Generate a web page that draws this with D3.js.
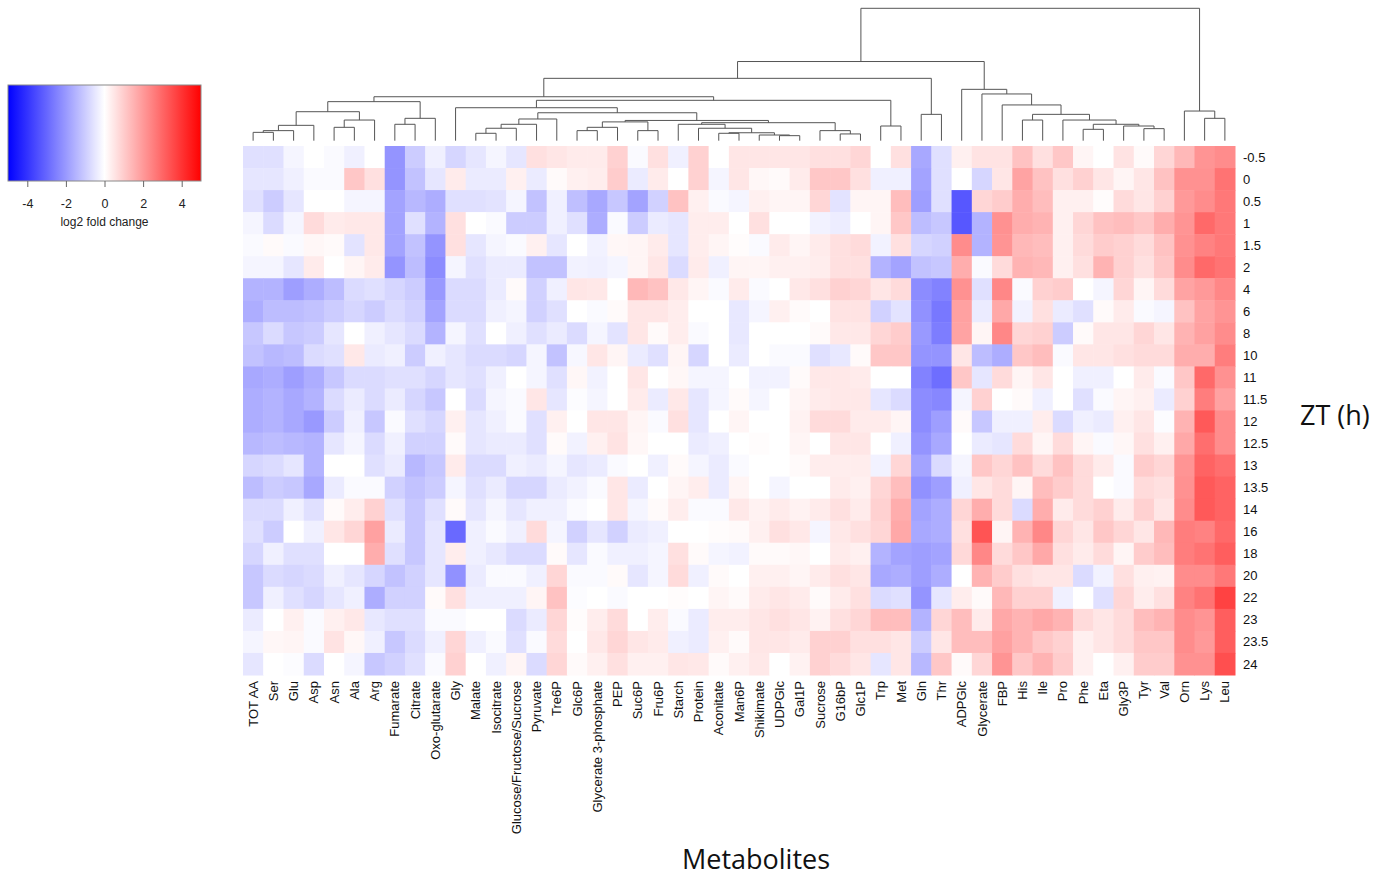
<!DOCTYPE html>
<html>
<head>
<meta charset="utf-8">
<script src="https://cdn.jsdelivr.net/npm/d3@7"></script>
<style>
  body { margin: 0; background: #fff; }
  svg { display: block; }
</style>
</head>
<body>
<svg id="chart" width="1397" height="878"></svg>
<script>
// Metabolites in clustered (dendrogram) order
const metabolites = ["TOT AA","Ser","Glu","Asp","Asn","Ala","Arg","Fumarate","Citrate","Oxo-glutarate",
  "Gly","Malate","Isocitrate","Glucose/Fructose/Sucrose","Pyruvate","Tre6P","Glc6P","Glycerate 3-phosphate",
  "PEP","Suc6P","Fru6P","Starch","Protein","Aconitate","Man6P","Shikimate","UDPGlc","Gal1P","Sucrose",
  "G16bP","Glc1P","Trp","Met","Gln","Thr","ADPGlc","Glycerate","FBP","His","Ile","Pro","Phe","Eta",
  "Gly3P","Tyr","Val","Orn","Lys","Leu"];

// Sampling times, ZT (h)
const timepoints = ["-0.5","0","0.5","1","1.5","2","4","6","8","10","11","11.5","12","12.5","13","13.5",
  "14","16","18","20","22","23","23.5","24"];

// log2 fold change, one row per time point, columns in metabolite order
const log2fc = [
  [-0.6,-0.6,-0.2,0,-0.1,-0.3,0,-2.1,-1.0,-0.3,-0.8,-0.5,-0.2,-0.5,0.6,0.5,0.4, 0.4,0.9,-0.1,0.6,-0.3,0.9,0,0.5,0.5,0.5,0.5,0.6,0.6,0.8,0,0.6, -1.7,-0.6,0.3,0.55,0.55,1.2,0.6,1.1,0.2,0,0.55,0.1,0.8,1.4,2.1,2.25],
  [-0.5,-0.5,-0.3,-0.1,-0.1,1.1,0.6,-2.1,-1.2,-0.5,0.4,-0.4,-0.4,0.3,-0.4,0.1,0.3, 0.35,1.0,-0.4,0.4,0,0.9,-0.2,0.5,0.15,0.1,0.4,1.1,1.1,0.6,-0.3,-0.3, -1.8,-0.6,0,-0.8,0.5,1.8,1.2,0.6,0.9,0.5,0.2,0.5,1.2,2.15,2.15,2.75],
  [-0.6,-1.0,-0.5,0,0,-0.2,-0.2,-1.8,-1.4,-1.6,-0.6,-0.6,-0.55,-0.2,-1.2,-0.3,-1.25, -1.7,-1.1,-1.8,-0.9,1.2,0.3,-0.1,-0.2,0.3,0.2,0.2,0.8,-0.55,0.2,0.2,1.3, -1.9,-0.6,-3.3,0.8,1.0,1.6,1.3,0.3,0.3,0.05,0.7,0.5,0.9,2.0,2.25,2.65],
  [-0.2,-0.7,-0.2,0.7,0.4,0.45,0.45,-1.8,-0.6,-1.5,0.6,0,-0.1,-1.0,-1.0,-0.3,-0.6, -1.6,-0.1,-1.0,-0.4,-0.5,0.35,0.35,0,0.6,0,0,-0.25,-0.35,0,0.2,1.1, -1.3,-1.1,-3.3,-1.5,2.15,1.6,1.5,0.3,0.8,1.2,1.3,1.1,1.6,2.1,2.95,2.65],
  [-0.1,0.1,-0.1,0.15,0.1,-0.55,0.45,-1.8,-1.2,-2.1,0.6,-0.5,-0.2,-0.1,0.3,-0.5,0, -0.25,0.15,0.2,0.4,-0.5,0.35,0.2,0.05,-0.1,0.4,0.2,0.4,0.6,0.7,-0.25,0.6, -0.8,-0.9,2.25,-1.5,2.1,1.4,1.3,0.3,0.7,1.0,0.9,0.7,1.2,2.15,2.45,2.65],
  [-0.2,-0.2,-0.5,0.4,0,0.2,0.4,-2.1,-1.3,-2.25,-0.2,-0.6,-0.4,-0.4,-1.2,-1.2,-0.25, -0.3,-0.2,0.2,0.5,-0.7,0.4,-0.3,0.2,0.2,0.3,0.3,0.35,0.6,0.6,-1.5,-1.8, -1.2,-1.1,1.6,-0.1,0.7,1.5,1.4,0.3,0.6,1.5,0.9,0.6,1.1,2.25,2.95,2.75],
  [-1.5,-1.5,-1.9,-1.6,-1.3,-0.7,-0.6,-0.8,-1.0,-2.0,-0.7,-0.7,-0.4,0.1,-0.9,-0.3,0.5, 0.45,0,1.4,1.2,0.45,0.2,-0.1,0.4,-0.1,0,0.45,0.6,0.9,0.8,0.5,0.7, -2.25,-2.45,2.15,-0.6,2.35,-0.1,0.9,1.0,0,-0.2,0.8,0.2,0.7,1.8,2.0,2.35],
  [-1.6,-1.3,-1.3,-1.2,-1.0,-0.8,-1.0,-0.7,-0.9,-1.8,-0.7,-0.7,-0.3,-0.2,-0.9,-0.6,0, -0.1,0.1,0.5,0.5,0.35,0,0,-0.45,-0.2,0.3,0.1,0,0.55,0.55,-0.9,-0.55, -2.15,-2.65,1.85,-0.4,1.7,-0.25,0.6,-0.4,-0.6,0.1,0.4,-0.1,-0.2,1.2,1.8,2.1],
  [-1.1,-0.7,-1.1,-1.0,-0.5,0,-0.3,-0.5,-0.7,-1.5,-0.2,-0.6,0,-0.3,-0.6,-0.4,-0.7, -0.2,-0.55,0.5,0.1,0.35,-0.1,0,-0.45,0,0,0,0.1,0.45,0.45,0.8,1.0, -2.0,-2.55,1.8,0.2,2.35,0.8,0.9,-1.0,0.1,0.5,0.5,0.8,0.5,1.5,1.85,2.25],
  [-1.2,-1.4,-1.3,-0.7,-0.6,0.45,-0.4,-0.3,-1.0,-0.3,-0.5,-0.7,-0.7,-0.8,-0.2,-1.2,-0.15, 0.5,0.2,-0.4,-0.6,0.2,-0.8,0,-0.4,0,-0.1,-0.1,-0.6,-0.45,0.1,1.1,1.1, -2.1,-2.1,0.5,-1.3,-1.6,1.1,1.3,-0.1,0.5,0.5,0.6,0.7,0.7,1.6,1.6,2.55],
  [-1.7,-1.6,-1.9,-1.6,-1.1,-0.7,-0.7,-0.6,-0.6,-0.8,-0.5,-0.6,-0.3,0,-0.2,-0.6,0.15, -0.25,0,0.5,0,0.15,-0.2,-0.2,0,-0.25,-0.25,0.1,0.45,0.45,0.4,0,0, -2.45,-2.85,1.1,-0.5,0.7,0.2,0.5,0,-0.3,-0.3,0,0.4,-0.1,1.1,2.95,2.15],
  [-1.6,-1.5,-1.7,-1.5,-0.7,-0.4,-0.7,-0.4,-0.8,-1.1,0,-0.7,-0.2,-0.1,0.5,-0.5,-0.05, -0.2,0,0.4,-0.4,0.45,-0.5,-0.2,0.1,-0.2,0,0.2,0.4,0.45,0.45,-0.5,-0.7, -2.25,-2.35,-0.2,0.9,0,0.1,-0.3,0,-0.6,-0.1,0.2,0.3,-0.4,0.9,2.55,1.85],
  [-1.6,-1.5,-1.7,-2.0,-1.0,-0.3,-1.1,-0.1,-0.6,-0.8,0.3,-0.5,-0.3,-0.1,-0.6,0.3,0, 0.5,0.5,0.2,-0.1,0.6,-0.5,0,0.2,0,0,0.25,0.7,0.7,0.4,0.4,0.2, -2.25,-1.9,0.1,-1.1,-0.3,-0.3,0.35,-0.7,-0.3,-0.4,0.3,0.5,-0.05,1.5,3.25,2.25],
  [-1.4,-1.3,-1.4,-1.5,-0.5,-0.2,-0.7,-0.3,-0.9,-0.9,0.1,-0.5,-0.4,-0.4,-0.6,0.1,-0.25, 0.3,0.55,0.15,0,0,-0.4,-0.3,0,0.05,0,0.2,0,0.5,0.5,0,-0.3, -2.1,-1.7,0,-0.4,-0.5,0.7,0.2,0.7,0.2,-0.1,0.15,0.6,0.3,1.7,2.85,2.25],
  [-0.8,-0.7,-0.5,-1.5,0,0,-0.6,-0.4,-1.4,-1.1,0.4,-0.7,-0.7,-0.3,-0.4,-0.2,-0.5, -0.4,-0.1,0,-0.3,0.1,-0.2,-0.4,-0.1,0,0,0.1,0.35,0.35,0.35,-0.25,0.8, -1.8,-0.7,-0.2,1.1,0.8,1.2,0.7,1.2,0.7,0.4,-0.1,1.0,0.8,2.1,3.05,2.85],
  [-1.3,-1.0,-1.1,-1.7,-0.4,-0.1,-0.1,-0.9,-1.2,-1.0,-0.2,-0.6,-0.4,-0.8,-0.8,-0.4,-0.25, -0.1,0.5,-0.4,0,0.2,0.35,-0.4,0.2,0,-0.2,0,0,0.4,0.3,0.8,1.3, -2.15,-1.9,-0.3,0.5,0.7,0.2,1.3,1.0,0.7,0,-0.1,0.7,0.6,2.15,3.25,3.05],
  [-0.7,-0.7,-0.3,-0.6,0.1,0.35,0.9,-0.6,-1.1,-0.6,0.1,-0.5,-0.2,-0.5,-0.3,-0.3,-0.1, 0,0.5,-0.2,0.1,0.35,-0.1,-0.1,0.45,0.25,0.4,0.25,0.4,0.6,0.4,0.9,1.6, -1.8,-1.6,0.8,1.6,0.7,-0.7,1.6,0.4,0.7,0.9,0.4,0.9,0.5,2.25,3.25,3.05],
  [-0.6,-1.0,0,-0.3,0.5,0.8,1.85,-0.4,-1.1,-0.5,-2.95,-0.3,-0.1,-0.3,0.7,-0.2,-0.9, -0.5,-0.9,-0.4,-0.3,0,0,0.05,0.1,0.3,0.6,0.45,-0.2,0.45,0.6,0.8,1.7, -1.7,-1.6,0.6,3.35,0.2,1.5,2.35,0.8,0.5,1.1,0.8,0.5,1.4,2.55,2.45,2.95],
  [-0.8,-0.3,-0.6,-0.6,0,0,1.6,-0.6,-1.1,-0.5,0.35,-0.3,-0.45,-0.7,-0.7,0.1,-0.5, -0.1,-0.3,-0.3,-0.2,0.6,0.1,-0.2,-0.25,0.1,0.1,0.15,0,0.4,0.3,-1.5,-1.8, -1.9,-1.8,0.75,2.35,0.7,1.1,1.7,0.6,0.4,0.7,0.2,1.0,1.3,2.55,2.75,3.15],
  [-1.1,-0.7,-0.8,-0.7,-0.3,-0.5,-0.8,-1.2,-0.9,-0.5,-2.15,-0.4,-0.1,-0.1,-0.3,0.8,-0.1, -0.1,0.1,-0.5,-0.2,0.7,-0.3,0.1,0,0.3,0.3,0.2,0.4,0.6,0.5,-1.7,-1.6, -1.9,-1.6,0,1.5,1.0,0.6,0.5,0.5,-0.7,-0.25,0.6,0.3,0.25,2.25,2.25,2.65],
  [-1.1,-0.3,-0.6,-0.8,-0.5,-0.3,-1.6,-0.9,-0.9,0.1,0.6,-0.3,-0.3,-0.3,0.2,1.2,-0.05, 0,-0.1,0,0,0.05,0,0.2,0.1,0.4,0.5,0.4,0.1,0.4,0.6,-0.7,-0.6, -2.1,-0.5,0.35,0.1,1.4,0.9,0.9,-0.3,0,-0.6,0.8,0.35,0.6,2.45,2.75,3.7],
  [-0.4,0,0.3,-0.1,0.3,0.45,-0.45,-0.6,-0.6,-0.1,-0.1,0,0,-0.7,-0.4,0.8,0.05, 0.35,0.7,0,0.35,-0.1,-0.4,0.35,0.35,0.5,0.6,0.5,0.25,0.6,0.8,1.3,1.3, -1.5,0.8,1.3,0.4,1.7,1.5,1.7,1.5,0.7,0.5,0.7,1.3,1.5,2.25,2.1,3.15],
  [-0.2,0.15,0.2,-0.1,0.55,0.15,-0.3,-1.1,-0.7,-0.3,0.8,-0.3,-0.1,-0.6,-0.1,0.7,0, 0.45,0.8,0.5,0.4,-0.3,-0.4,0.3,0.1,0.5,0.5,0.4,0.9,0.9,0.6,0.6,0.5, -1.0,0.5,1.3,1.3,1.85,1.5,1.1,0.9,0.3,0.5,0.7,1.1,1.1,2.25,2.0,3.15],
  [-0.5,0,-0.05,-0.7,0,-0.2,-1.1,-0.9,-0.6,-0.1,0.9,0,-0.3,0.2,-0.7,0.8,0.1, 0.3,0.6,0.3,0.3,0.5,0.45,0.1,0.3,0.45,0,0.25,0.9,0.7,0.5,-0.5,0.5, -1.4,1.1,0.1,0.8,2.1,1.1,1.5,1.0,0.3,0,0.3,1.0,1.0,2.15,2.15,3.45]
];

// Hierarchical clustering of metabolites: [node, left, right, merge height]
const merges = [
  ["n1","TOT AA","Ser",6.3], ["n2","n1","Glu",7.6], ["n3","n2","Asp",11.6],
  ["n4","Asn","Ala",10.1], ["n5","n4","Arg",15.6], ["n6","n3","n5",21.9],
  ["n7","Fumarate","Citrate",12.4], ["n8","n7","Oxo-glutarate",16.9], ["n9","n6","n8",29.5],
  ["n10","Malate","Isocitrate",5.6], ["n11","n10","Glucose/Fructose/Sucrose",9.4],
  ["n12","n11","Pyruvate",12.4], ["n13","n12","Tre6P",16.4],
  ["n14","Glc6P","Glycerate 3-phosphate",7.6], ["n15","n14","PEP",10.1],
  ["n16","Suc6P","Fru6P",7.6], ["n17","n15","n16",14.2],
  ["n18","Aconitate","Man6P",5.6], ["n19","UDPGlc","Gal1P",3.8], ["n20","Shikimate","n19",4.3],
  ["n21","n18","n20",6.0], ["n22","Protein","n21",9.4], ["n23","Starch","n22",12.4],
  ["n24","G16bP","Glc1P",5.1], ["n25","Sucrose","n24",7.6], ["n26","n23","n25",13.6],
  ["n27","n17","n26",15.3], ["n28","n13","n27",21.1], ["n29","Gly","n28",24.9],
  ["n30","Trp","Met",11.1], ["n31","n29","n30",30.5], ["n32","n9","n31",33.2],
  ["n33","Gln","Thr",19.9], ["n34","n32","n33",47.1],
  ["n35","Phe","Eta",8.6], ["n36","Tyr","Val",9.1], ["n37","Gly3P","n36",11.1],
  ["n38","n35","n37",12.4], ["n39","Pro","n38",15.6], ["n40","His","Ile",15.6],
  ["n41","n40","n39",19.9], ["n42","FBP","n41",27.0], ["n43","Glycerate","n42",35.3],
  ["n44","ADPGlc","n43",38.8], ["n45","n34","n44",59.8],
  ["n46","Lys","Leu",16.9], ["n47","Orn","n46",22.4], ["n48","n45","n47",100]
];

const legendDomain = [-5, 5];
const legendTicks = [-4, -2, 0, 2, 4];

// ---- layout ----
const svg = d3.select("#chart");
const font = "'Liberation Sans', Arial, Helvetica, sans-serif";
const titleFont = "'Open Sans', 'Liberation Sans', sans-serif";

const x = d3.scaleBand().domain(metabolites).range([243, 1235]);
const y = d3.scaleBand().domain(timepoints).range([146, 675]);
const color = d3.scaleLinear().domain([-5, 0, 5])
  .range(["#0000ff", "#ffffff", "#ff0000"]).clamp(true);

// ---- heatmap ----
const cells = [];
timepoints.forEach((t, i) => metabolites.forEach((m, j) => cells.push({ t, m, v: log2fc[i][j] })));

svg.append("g").selectAll("rect").data(cells).join("rect")
  .attr("x", d => x(d.m))
  .attr("y", d => y(d.t))
  .attr("width", x.bandwidth() + 0.5)
  .attr("height", y.bandwidth() + 0.5)
  .attr("fill", d => color(d.v));

// ---- column dendrogram ----
const yd = d3.scaleLinear().domain([0, 100]).range([140.7, 8.3]);
const nodes = new Map();
metabolites.forEach(m => nodes.set(m, { x: x(m) + x.bandwidth() / 2, h: 0 }));
const links = [];
merges.forEach(([id, a, b, h]) => {
  const na = nodes.get(a), nb = nodes.get(b);
  nodes.set(id, { x: (na.x + nb.x) / 2, h });
  links.push({ a: na, b: nb, h });
});

svg.append("g")
  .attr("fill", "none")
  .attr("stroke", "#555")
  .attr("stroke-width", 1)
  .selectAll("path").data(links).join("path")
  .attr("d", d => `M${d.a.x},${yd(d.a.h)}V${yd(d.h)}H${d.b.x}V${yd(d.b.h)}`);

// ---- column labels ----
svg.append("g").selectAll("text").data(metabolites).join("text")
  .attr("transform", m => `translate(${x(m) + x.bandwidth() / 2},681) rotate(-90)`)
  .attr("dy", "0.35em")
  .attr("text-anchor", "end")
  .attr("font-family", font)
  .attr("font-size", 13)
  .attr("fill", "#111")
  .text(m => m);

// ---- row labels ----
svg.append("g").selectAll("text").data(timepoints).join("text")
  .attr("x", 1243)
  .attr("y", t => y(t) + y.bandwidth() / 2)
  .attr("dy", "0.35em")
  .attr("font-family", font)
  .attr("font-size", 13)
  .attr("fill", "#111")
  .text(t => t);

// ---- axis titles ----
svg.append("text")
  .attr("x", 1300).attr("y", 425)
  .attr("font-family", titleFont)
  .attr("font-size", 27)
  .attr("fill", "#111")
  .text("ZT (h)");

svg.append("text")
  .attr("x", 756).attr("y", 869)
  .attr("text-anchor", "middle")
  .attr("font-family", titleFont)
  .attr("font-size", 27)
  .attr("fill", "#111")
  .text("Metabolites");

// ---- colour key ----
const lx = d3.scaleLinear().domain(legendDomain).range([8, 201]);
const grad = svg.append("defs").append("linearGradient").attr("id", "key-grad");
d3.range(0, 1.0001, 0.05).forEach(p => {
  const v = legendDomain[0] + p * (legendDomain[1] - legendDomain[0]);
  grad.append("stop").attr("offset", p).attr("stop-color", color(v));
});

svg.append("rect")
  .attr("x", lx(legendDomain[0])).attr("y", 85)
  .attr("width", lx(legendDomain[1]) - lx(legendDomain[0]))
  .attr("height", 96)
  .attr("fill", "url(#key-grad)")
  .attr("stroke", "#8a8a8a")
  .attr("stroke-width", 1);

const keyAxis = svg.append("g")
  .attr("transform", "translate(0,181)")
  .call(d3.axisBottom(lx).tickValues(legendTicks).tickSize(6).tickPadding(12)
    .tickFormat(d => String(d)));
keyAxis.select(".domain").remove();
keyAxis.selectAll("line").attr("stroke", "#666");
keyAxis.selectAll("text")
  .attr("font-family", font)
  .attr("font-size", 12.5)
  .attr("fill", "#222");

svg.append("text")
  .attr("x", 104.5).attr("y", 226)
  .attr("text-anchor", "middle")
  .attr("font-family", font)
  .attr("font-size", 12)
  .attr("fill", "#222")
  .text("log2 fold change");
</script>
</body>
</html>
